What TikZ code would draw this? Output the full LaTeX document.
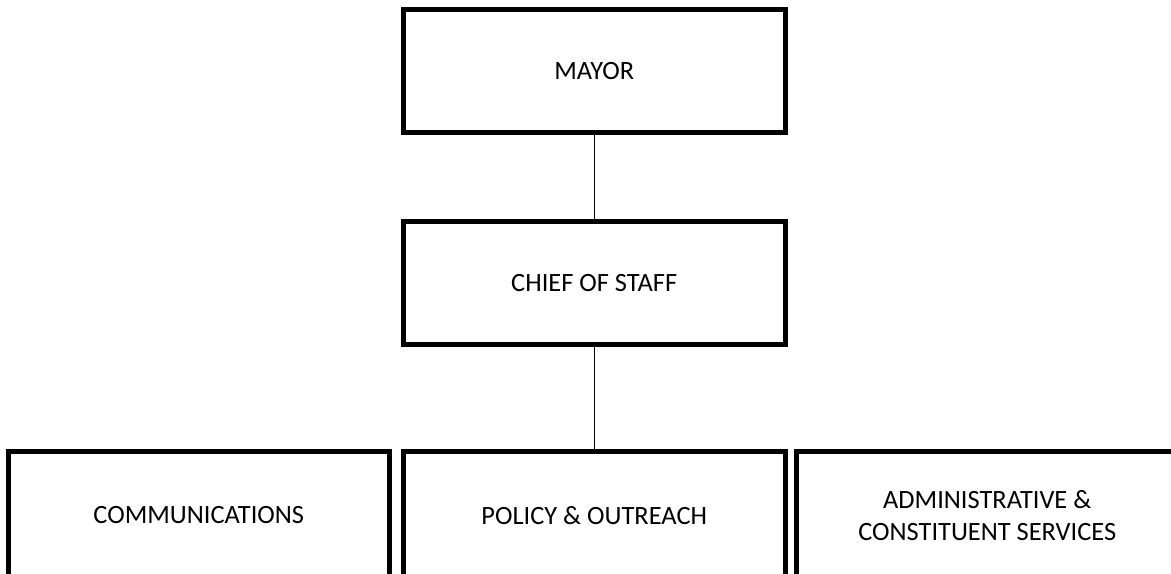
\documentclass[tikz,border=0pt]{standalone}
\usepackage{fontspec}
\setmainfont{Carlito}
\usepackage{tikz}

\tikzset{office/.style={draw=black,line width=2.5pt,fill=white,
    minimum width=190.75pt,minimum height=61.5pt,align=center,
    font=\fontsize{13.2}{16}\selectfont,inner sep=0pt},
  lower/.style={office,minimum height=64pt},
  link/.style={draw=black,line width=0.75pt}}

\begin{document}
\begin{tikzpicture}[x=0.5pt,y=-0.5pt]
  \clip (0,0) rectangle (1171,573);
  \fill[white] (0,0) rectangle (1171,573);

  \node[office] (mayor) at (594.25,71) {MAYOR};
  \node[office] (chief) at (594.25,283.25) {CHIEF OF STAFF};

  \node[lower] (comms) at (198.75,515.5) {COMMUNICATIONS};
  \node[lower] (policy) at (594.25,515.5) {POLICY \& OUTREACH};
  \node[lower] (admin) at (987.25,515.5) {ADMINISTRATIVE \&\\CONSTITUENT SERVICES};

  \draw[link] (mayor) -- (chief);
  \draw[link] (chief) -- (policy);
\end{tikzpicture}
\end{document}
